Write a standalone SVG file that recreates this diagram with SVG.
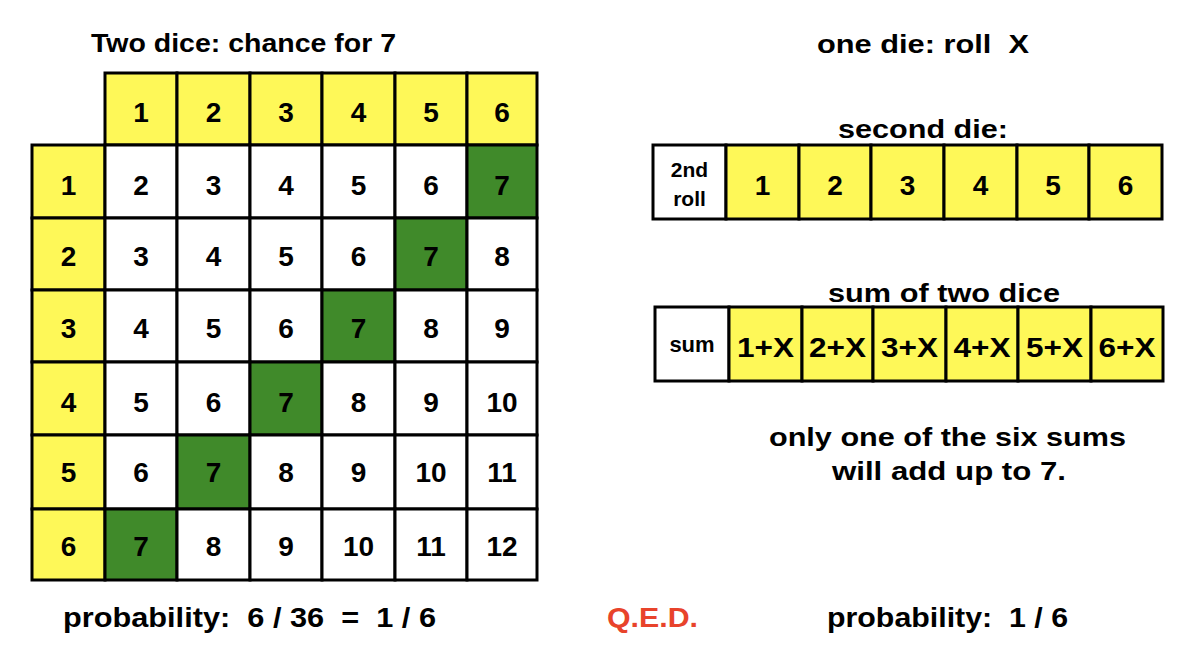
<svg xmlns="http://www.w3.org/2000/svg" width="1200" height="671" viewBox="0 0 1200 671">
<style>
text{font-family:"Liberation Sans",Arial,Helvetica,sans-serif;font-weight:bold;fill:#000}
.t{font-size:26px}
.n{font-size:28px;text-anchor:middle}
.s{font-size:21px;text-anchor:middle}
.y{fill:#FEF858;stroke:#000;stroke-width:3}
.w{fill:#FFFFFF;stroke:#000;stroke-width:3}
.g{fill:#408A2A;stroke:#000;stroke-width:3}
.red{fill:#E8432B}
</style>
<rect width="1200" height="671" fill="#fff"/>
<g id="titles">
<text class="t" x="91" y="52" textLength="305" lengthAdjust="spacingAndGlyphs">Two dice: chance for 7</text>
<text class="t" x="817" y="53" textLength="212" lengthAdjust="spacingAndGlyphs" xml:space="preserve">one die: roll  X</text>
<text class="t" x="838" y="138" textLength="170" lengthAdjust="spacingAndGlyphs">second die:</text>
<text class="t" x="828" y="302" textLength="232" lengthAdjust="spacingAndGlyphs">sum of two dice</text>
<text class="t" x="769" y="446" font-size="28" textLength="357" lengthAdjust="spacingAndGlyphs">only one of the six sums</text>
<text class="t" x="832" y="480" font-size="28" textLength="234" lengthAdjust="spacingAndGlyphs">will add up to 7.</text>
<text class="t" x="63" y="627" style="font-size:28px" textLength="373" lengthAdjust="spacingAndGlyphs" xml:space="preserve">probability:  6 / 36  =  1 / 6</text>
<text class="t red" x="607" y="627" style="font-size:28px" textLength="91" lengthAdjust="spacingAndGlyphs">Q.E.D.</text>
<text class="t" x="827" y="627" style="font-size:28px" textLength="241" lengthAdjust="spacingAndGlyphs" xml:space="preserve">probability:  1 / 6</text>
</g>
<g id="grid">
<g id="h-c1"><rect class="y" x="105" y="73" width="72" height="72"/><text class="n" x="141" y="122">1</text></g>
<g id="h-c2"><rect class="y" x="177" y="73" width="73" height="72"/><text class="n" x="213.5" y="122">2</text></g>
<g id="h-c3"><rect class="y" x="250" y="73" width="72" height="72"/><text class="n" x="286" y="122">3</text></g>
<g id="h-c4"><rect class="y" x="322" y="73" width="73" height="72"/><text class="n" x="358.5" y="122">4</text></g>
<g id="h-c5"><rect class="y" x="395" y="73" width="72" height="72"/><text class="n" x="431" y="122">5</text></g>
<g id="h-c6"><rect class="y" x="467" y="73" width="70" height="72"/><text class="n" x="502" y="122">6</text></g>
<g id="h-r1"><rect class="y" x="32" y="145" width="73" height="73"/><text class="n" x="68.5" y="195">1</text></g>
<g id="h-r2"><rect class="y" x="32" y="218" width="73" height="72"/><text class="n" x="68.5" y="266">2</text></g>
<g id="h-r3"><rect class="y" x="32" y="290" width="73" height="72"/><text class="n" x="68.5" y="338">3</text></g>
<g id="h-r4"><rect class="y" x="32" y="362" width="73" height="73"/><text class="n" x="68.5" y="412">4</text></g>
<g id="h-r5"><rect class="y" x="32" y="435" width="73" height="74"/><text class="n" x="68.5" y="482">5</text></g>
<g id="h-r6"><rect class="y" x="32" y="509" width="73" height="71"/><text class="n" x="68.5" y="556">6</text></g>

<g id="r1c1"><rect class="w" x="105" y="145" width="72" height="73"/><text class="n" x="141" y="195">2</text></g>
<g id="r1c2"><rect class="w" x="177" y="145" width="73" height="73"/><text class="n" x="213.5" y="195">3</text></g>
<g id="r1c3"><rect class="w" x="250" y="145" width="72" height="73"/><text class="n" x="286" y="195">4</text></g>
<g id="r1c4"><rect class="w" x="322" y="145" width="73" height="73"/><text class="n" x="358.5" y="195">5</text></g>
<g id="r1c5"><rect class="w" x="395" y="145" width="72" height="73"/><text class="n" x="431" y="195">6</text></g>
<g id="r1c6"><rect class="g" x="467" y="145" width="70" height="73"/><text class="n" x="502" y="195">7</text></g>

<g id="r2c1"><rect class="w" x="105" y="218" width="72" height="72"/><text class="n" x="141" y="266">3</text></g>
<g id="r2c2"><rect class="w" x="177" y="218" width="73" height="72"/><text class="n" x="213.5" y="266">4</text></g>
<g id="r2c3"><rect class="w" x="250" y="218" width="72" height="72"/><text class="n" x="286" y="266">5</text></g>
<g id="r2c4"><rect class="w" x="322" y="218" width="73" height="72"/><text class="n" x="358.5" y="266">6</text></g>
<g id="r2c5"><rect class="g" x="395" y="218" width="72" height="72"/><text class="n" x="431" y="266">7</text></g>
<g id="r2c6"><rect class="w" x="467" y="218" width="70" height="72"/><text class="n" x="502" y="266">8</text></g>

<g id="r3c1"><rect class="w" x="105" y="290" width="72" height="72"/><text class="n" x="141" y="338">4</text></g>
<g id="r3c2"><rect class="w" x="177" y="290" width="73" height="72"/><text class="n" x="213.5" y="338">5</text></g>
<g id="r3c3"><rect class="w" x="250" y="290" width="72" height="72"/><text class="n" x="286" y="338">6</text></g>
<g id="r3c4"><rect class="g" x="322" y="290" width="73" height="72"/><text class="n" x="358.5" y="338">7</text></g>
<g id="r3c5"><rect class="w" x="395" y="290" width="72" height="72"/><text class="n" x="431" y="338">8</text></g>
<g id="r3c6"><rect class="w" x="467" y="290" width="70" height="72"/><text class="n" x="502" y="338">9</text></g>

<g id="r4c1"><rect class="w" x="105" y="362" width="72" height="73"/><text class="n" x="141" y="412">5</text></g>
<g id="r4c2"><rect class="w" x="177" y="362" width="73" height="73"/><text class="n" x="213.5" y="412">6</text></g>
<g id="r4c3"><rect class="g" x="250" y="362" width="72" height="73"/><text class="n" x="286" y="412">7</text></g>
<g id="r4c4"><rect class="w" x="322" y="362" width="73" height="73"/><text class="n" x="358.5" y="412">8</text></g>
<g id="r4c5"><rect class="w" x="395" y="362" width="72" height="73"/><text class="n" x="431" y="412">9</text></g>
<g id="r4c6"><rect class="w" x="467" y="362" width="70" height="73"/><text class="n" x="502" y="412">10</text></g>

<g id="r5c1"><rect class="w" x="105" y="435" width="72" height="74"/><text class="n" x="141" y="482">6</text></g>
<g id="r5c2"><rect class="g" x="177" y="435" width="73" height="74"/><text class="n" x="213.5" y="482">7</text></g>
<g id="r5c3"><rect class="w" x="250" y="435" width="72" height="74"/><text class="n" x="286" y="482">8</text></g>
<g id="r5c4"><rect class="w" x="322" y="435" width="73" height="74"/><text class="n" x="358.5" y="482">9</text></g>
<g id="r5c5"><rect class="w" x="395" y="435" width="72" height="74"/><text class="n" x="431" y="482">10</text></g>
<g id="r5c6"><rect class="w" x="467" y="435" width="70" height="74"/><text class="n" x="502" y="482">11</text></g>

<g id="r6c1"><rect class="g" x="105" y="509" width="72" height="71"/><text class="n" x="141" y="556">7</text></g>
<g id="r6c2"><rect class="w" x="177" y="509" width="73" height="71"/><text class="n" x="213.5" y="556">8</text></g>
<g id="r6c3"><rect class="w" x="250" y="509" width="72" height="71"/><text class="n" x="286" y="556">9</text></g>
<g id="r6c4"><rect class="w" x="322" y="509" width="73" height="71"/><text class="n" x="358.5" y="556">10</text></g>
<g id="r6c5"><rect class="w" x="395" y="509" width="72" height="71"/><text class="n" x="431" y="556">11</text></g>
<g id="r6c6"><rect class="w" x="467" y="509" width="70" height="71"/><text class="n" x="502" y="556">12</text></g>
</g>

<g id="second-die">
<g id="sd-label"><rect class="w" x="653" y="145" width="73" height="74"/><text class="s" x="689.5" y="177">2nd</text><text class="s" x="689.5" y="206">roll</text></g>
<g id="sd-1"><rect class="y" x="726" y="145" width="73" height="74"/><text class="n" x="762.5" y="195">1</text></g>
<g id="sd-2"><rect class="y" x="799" y="145" width="72" height="74"/><text class="n" x="835" y="195">2</text></g>
<g id="sd-3"><rect class="y" x="871" y="145" width="73" height="74"/><text class="n" x="907.5" y="195">3</text></g>
<g id="sd-4"><rect class="y" x="944" y="145" width="73" height="74"/><text class="n" x="980.5" y="195">4</text></g>
<g id="sd-5"><rect class="y" x="1017" y="145" width="72" height="74"/><text class="n" x="1053" y="195">5</text></g>
<g id="sd-6"><rect class="y" x="1089" y="145" width="73" height="74"/><text class="n" x="1125.5" y="195">6</text></g>
</g>

<g id="sum-row">
<g id="sum-label"><rect class="w" x="655" y="307" width="74" height="74"/><text class="s" x="692" y="352" style="font-size:22px">sum</text></g>
<g id="sum-1"><rect class="y" x="729" y="307" width="73" height="74"/><text class="n" x="765.5" y="357" textLength="57" lengthAdjust="spacingAndGlyphs">1+X</text></g>
<g id="sum-2"><rect class="y" x="802" y="307" width="71" height="74"/><text class="n" x="837.5" y="357" textLength="57" lengthAdjust="spacingAndGlyphs">2+X</text></g>
<g id="sum-3"><rect class="y" x="873" y="307" width="73" height="74"/><text class="n" x="909.5" y="357" textLength="57" lengthAdjust="spacingAndGlyphs">3+X</text></g>
<g id="sum-4"><rect class="y" x="946" y="307" width="72" height="74"/><text class="n" x="982" y="357" textLength="57" lengthAdjust="spacingAndGlyphs">4+X</text></g>
<g id="sum-5"><rect class="y" x="1018" y="307" width="73" height="74"/><text class="n" x="1054.5" y="357" textLength="57" lengthAdjust="spacingAndGlyphs">5+X</text></g>
<g id="sum-6"><rect class="y" x="1091" y="307" width="72" height="74"/><text class="n" x="1127" y="357" textLength="57" lengthAdjust="spacingAndGlyphs">6+X</text></g>
</g>
<g id="connectors"/>
</svg>
